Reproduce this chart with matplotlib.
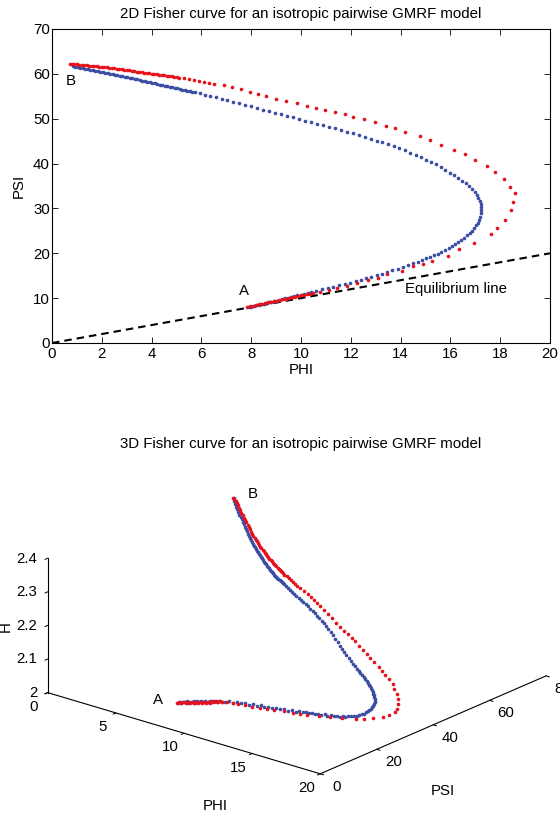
import matplotlib
matplotlib.use("Agg")
import matplotlib.pyplot as plt

plt.rcParams['font.family'] = ['Liberation Sans', 'DejaVu Sans']
FS = 10.8
plt.rcParams['font.size'] = FS

# ---- data: Fisher information trajectories (PHI, PSI, H) ----
blue_phi = [7.90, 8.00, 8.10, 8.20, 8.30, 8.40, 8.50, 8.60, 8.70, 8.80, 8.90, 9.00, 9.12, 9.24, 9.36, 9.48,
            9.60, 9.72, 9.85, 9.98, 10.12, 10.27, 10.42,
            10.62, 10.85, 11.07, 11.30, 11.52, 11.75, 11.97, 12.19, 12.41, 12.62, 12.83, 13.04, 13.24, 13.45,
            13.66, 13.88, 14.10, 14.31, 14.51, 14.69, 14.87, 15.04, 15.20, 15.36, 15.50, 15.64, 15.79, 15.93,
            16.06, 16.19, 16.31, 16.44, 16.56, 16.67, 16.77, 16.87, 16.96, 17.04, 17.10, 17.15, 17.19, 17.21,
            17.22, 17.22,
            17.21, 17.17, 17.12, 17.06, 16.98, 16.88, 16.76, 16.62, 16.47, 16.31, 16.14, 15.97, 15.79, 15.61,
            15.42, 15.22, 15.02, 14.81, 14.60, 14.39, 14.17, 13.95, 13.73, 13.50, 13.27, 13.04, 12.80, 12.56,
            12.32, 12.08, 11.84, 11.60, 11.36, 11.12, 10.88, 10.64, 10.40, 10.16, 9.92, 9.68, 9.44, 9.20, 8.96,
            8.72, 8.48, 8.24, 8.00, 7.76, 7.52, 7.28, 7.04, 6.81, 6.58, 6.36, 6.14, 5.93, 5.73,
            5.63, 5.53, 5.43, 5.33, 5.23, 5.13, 5.03, 4.93, 4.83, 4.73, 4.63, 4.53, 4.43, 4.33, 4.23, 4.13,
            4.03, 3.93, 3.83, 3.73, 3.63, 3.53, 3.43, 3.33, 3.23, 3.13, 3.03, 2.93, 2.83, 2.73, 2.63, 2.53,
            2.43, 2.33, 2.23, 2.13, 2.03, 1.93, 1.83, 1.73, 1.63, 1.53, 1.43, 1.33, 1.23, 1.13, 1.03, 0.94, 0.86]
blue_psi = [7.95, 8.08, 8.22, 8.36, 8.50, 8.63, 8.77, 8.91, 9.05, 9.18, 9.32, 9.45, 9.61, 9.77, 9.94, 10.10,
            10.27, 10.44, 10.62, 10.80, 11.00, 11.21, 11.42,
            11.70, 12.00, 12.28, 12.57, 12.86, 13.17, 13.48, 13.80, 14.13, 14.47, 14.81, 15.15, 15.45, 15.80,
            16.20, 16.60, 17.00, 17.40, 17.80, 18.15, 18.52, 18.88, 19.22, 19.55, 19.95, 20.35, 20.75, 21.15,
            21.58, 22.05, 22.52, 23.00, 23.50, 24.00, 24.50, 25.05, 25.60, 26.20, 26.85, 27.50, 28.20, 28.90,
            29.60, 30.25,
            30.90, 31.60, 32.30, 33.00, 33.70, 34.40, 35.00, 35.60, 36.20, 36.80, 37.40, 38.00, 38.60, 39.20,
            39.80, 40.35, 40.90, 41.45, 41.95, 42.45, 42.95, 43.42, 43.88, 44.30, 44.72, 45.12, 45.52, 45.92,
            46.32, 46.72, 47.10, 47.48, 47.85, 48.20, 48.55, 48.90, 49.25, 49.60, 49.95, 50.30, 50.65, 51.00,
            51.35, 51.70, 52.05, 52.40, 52.75, 53.10, 53.45, 53.80, 54.12, 54.45, 54.77, 55.08, 55.38, 55.65,
            55.90,
            56.02, 56.14, 56.26, 56.38, 56.50, 56.62, 56.74, 56.87, 56.99, 57.12, 57.25, 57.37, 57.50, 57.62,
            57.75, 57.87, 58.00, 58.12, 58.25, 58.37, 58.50, 58.62, 58.75, 58.87, 59.00, 59.12, 59.24, 59.36,
            59.48, 59.60, 59.72, 59.84, 59.95, 60.06, 60.17, 60.28, 60.39, 60.50, 60.60, 60.70, 60.80, 60.90,
            61.00, 61.10, 61.20, 61.31, 61.43, 61.56, 61.70]
blue_h = [2.037, 2.040, 2.038, 2.042, 2.040, 2.044, 2.041, 2.045, 2.043, 2.047, 2.044, 2.049, 2.046, 2.050,
          2.048, 2.052, 2.050, 2.054, 2.052, 2.056, 2.054, 2.058, 2.056,
          2.058, 2.061, 2.058, 2.063, 2.060, 2.064, 2.059, 2.062, 2.060, 2.063, 2.058, 2.061, 2.057, 2.060,
          2.056, 2.059, 2.055, 2.058, 2.054, 2.057, 2.053, 2.055, 2.052, 2.054, 2.050, 2.052, 2.049, 2.051,
          2.047, 2.048, 2.045, 2.046, 2.043, 2.044, 2.042, 2.043, 2.041, 2.041, 2.040, 2.040, 2.040, 2.040,
          2.041, 2.042,
          2.043, 2.045, 2.046, 2.047, 2.049, 2.050, 2.051, 2.052, 2.054, 2.055, 2.056, 2.057, 2.058, 2.059,
          2.060, 2.061, 2.062, 2.063, 2.064, 2.065, 2.066, 2.068, 2.070, 2.073, 2.076, 2.079, 2.082, 2.086,
          2.091, 2.096, 2.101, 2.107, 2.113, 2.119, 2.125, 2.130, 2.135, 2.140, 2.144, 2.148, 2.151, 2.154,
          2.157, 2.160, 2.163, 2.165, 2.168, 2.170, 2.172, 2.174, 2.176, 2.178, 2.180, 2.183, 2.185, 2.187,
          2.190,
          2.191, 2.192, 2.193, 2.195, 2.196, 2.197, 2.199, 2.200, 2.202, 2.204, 2.206, 2.208, 2.210, 2.212,
          2.215, 2.217, 2.219, 2.222, 2.224, 2.227, 2.230, 2.233, 2.236, 2.239, 2.242, 2.245, 2.248, 2.251,
          2.255, 2.259, 2.263, 2.267, 2.271, 2.276, 2.281, 2.286, 2.291, 2.297, 2.303, 2.308, 2.314, 2.319,
          2.325, 2.331, 2.338, 2.344, 2.351, 2.358, 2.365]

red_phi = [7.85, 7.97, 8.09, 8.21, 8.33, 8.45, 8.57, 8.69, 8.81, 8.93, 9.05, 9.17, 9.29, 9.41, 9.53, 9.65,
           9.77, 9.89, 10.01, 10.13, 10.25, 10.37, 10.49,
           10.75, 11.11, 11.45, 11.83, 12.25, 12.69, 13.10, 13.47, 14.04, 14.49, 14.88, 15.25, 15.89, 16.36,
           16.95, 17.63, 17.89, 18.19, 18.45, 18.50, 18.58,
           18.39, 18.15, 17.80, 17.46, 16.99, 16.59, 16.13, 15.63, 15.20, 14.77, 14.19, 13.76, 13.40, 12.97,
           12.54, 12.10, 11.76, 11.36, 10.97, 10.60, 10.25, 9.82, 9.39, 9.00, 8.60, 8.28, 7.96, 7.60, 7.24,
           6.90, 6.52, 6.30, 6.10, 5.90, 5.70, 5.50, 5.30, 5.12,
           5.00, 4.90, 4.80, 4.70, 4.60, 4.50, 4.40, 4.30, 4.20, 4.10, 4.00, 3.90, 3.80, 3.70, 3.60, 3.50,
           3.40, 3.30, 3.20, 3.10, 3.00, 2.90, 2.80, 2.70, 2.60, 2.50, 2.40, 2.30, 2.20, 2.10, 2.00, 1.90,
           1.80, 1.70, 1.60, 1.50, 1.40, 1.30, 1.20, 1.10, 1.00, 0.90, 0.80, 0.72]
red_psi = [8.05, 8.19, 8.33, 8.47, 8.62, 8.76, 8.90, 9.04, 9.18, 9.32, 9.47, 9.61, 9.75, 9.89, 10.03, 10.17,
           10.32, 10.46, 10.60, 10.74, 10.88, 11.02, 11.16,
           11.45, 11.85, 12.25, 12.70, 13.30, 13.95, 14.55, 15.30, 16.10, 17.10, 17.70, 18.30, 19.50, 20.95,
           22.40, 24.20, 25.70, 27.50, 29.60, 31.50, 33.40,
           34.80, 36.50, 38.10, 39.50, 40.80, 42.10, 43.00, 44.10, 45.20, 46.10, 47.00, 47.90, 48.40, 49.20,
           49.90, 50.40, 51.00, 51.50, 51.90, 52.40, 52.80, 53.40, 54.00, 54.50, 55.00, 55.50, 56.00, 56.60,
           57.10, 57.45, 57.80, 58.00, 58.20, 58.40, 58.60, 58.80, 59.00, 59.15,
           59.27, 59.36, 59.45, 59.53, 59.62, 59.70, 59.78, 59.85, 59.92, 59.99, 60.06, 60.13, 60.20, 60.27,
           60.35, 60.43, 60.51, 60.59, 60.67, 60.75, 60.83, 60.91, 60.99, 61.07, 61.14, 61.21, 61.28, 61.35,
           61.42, 61.48, 61.54, 61.60, 61.66, 61.71, 61.76, 61.81, 61.87, 61.93, 61.99, 62.05, 62.11, 62.18,
           62.25, 62.30]
red_h = [2.036, 2.039, 2.037, 2.041, 2.039, 2.043, 2.041, 2.045, 2.043, 2.047, 2.045, 2.049, 2.047, 2.051,
         2.049, 2.053, 2.051, 2.055, 2.053, 2.057, 2.055, 2.059, 2.057,
         2.060, 2.060, 2.060, 2.059, 2.058, 2.057, 2.057, 2.056, 2.055, 2.053, 2.053, 2.052, 2.050, 2.048,
         2.047, 2.046, 2.045, 2.043, 2.042, 2.041, 2.044,
         2.048, 2.053, 2.058, 2.062, 2.068, 2.073, 2.078, 2.081, 2.083, 2.086, 2.092, 2.096, 2.100, 2.104,
         2.109, 2.115, 2.118, 2.123, 2.128, 2.132, 2.138, 2.145, 2.152, 2.157, 2.162, 2.165, 2.168, 2.171,
         2.174, 2.177, 2.181, 2.183, 2.185, 2.188, 2.190, 2.192, 2.195, 2.197,
         2.199, 2.201, 2.203, 2.205, 2.207, 2.209, 2.211, 2.213, 2.215, 2.218, 2.220, 2.223, 2.225, 2.228,
         2.231, 2.234, 2.237, 2.240, 2.243, 2.246, 2.249, 2.252, 2.256, 2.260, 2.264, 2.268, 2.272, 2.277,
         2.282, 2.287, 2.292, 2.298, 2.304, 2.309, 2.315, 2.321, 2.327, 2.333, 2.339, 2.345, 2.350, 2.355,
         2.359, 2.362]

equilibrium_phi = [0, 20]
equilibrium_psi = [0, 20]

phi_ticks_2d = list(range(0, 21, 2))
psi_ticks_2d = list(range(0, 71, 10))
phi_ticks_3d = [0, 5, 10, 15, 20]
psi_ticks_3d = [0, 20, 40, 60, 80]
h_ticks_3d = [2.0, 2.1, 2.2, 2.3, 2.4]
h_tick_labels = ['2', '2.1', '2.2', '2.3', '2.4']

BLUE = '#3b4ca3'
RED = '#e5121b'
MS = 2.6

W, H = 560, 817
fig = plt.figure(figsize=(W / 100, H / 100), dpi=100)

# ---------------- 2D Fisher curve ----------------
ax = fig.add_axes([52 / W, 1 - 343 / H, 498 / W, 314 / H])
ax.plot(equilibrium_phi, equilibrium_psi, color='black', lw=1.5,
        linestyle=(0, (3.6, 2.4)), zorder=1)
ax.plot(blue_phi, blue_psi, 'o', ms=MS, mew=0, color=BLUE, zorder=2)
ax.plot(red_phi, red_psi, 'o', ms=MS, mew=0, color=RED, zorder=3)
ax.set_xlim(0, 20)
ax.set_ylim(0, 70)
ax.set_xticks(phi_ticks_2d)
ax.set_yticks(psi_ticks_2d)
ax.tick_params(direction='in', length=4.5, width=0.6, top=True, right=True, labelsize=FS)
ax.tick_params(axis='x', pad=3)
ax.tick_params(axis='y', pad=1.5)
for sp in ax.spines.values():
    sp.set_linewidth(0.8)
ax.set_xlabel('PHI', labelpad=1)
ax.set_ylabel('PSI', labelpad=5)
ax.set_title('2D Fisher curve for an isotropic pairwise GMRF model', fontsize=FS, pad=8)
ax.text(7.71, 11.6, 'A', ha='center', va='center', fontsize=FS)
ax.text(0.74, 58.5, 'B', ha='center', va='center', fontsize=FS)
ax.text(14.18, 12.1, 'Equilibrium line', ha='left', va='center', fontsize=FS)

# ---------------- 3D Fisher curve ----------------
ax3 = fig.add_axes([0.0665, -0.0731, 0.903, 0.619], projection='3d')
ax3.set_proj_type('ortho')
ax3.view_init(elev=21.06, azim=-50.35)
ax3.set_box_aspect((1, 1, 0.407))
ax3.patch.set_alpha(0)
ax3.grid(False)
for axis in (ax3.xaxis, ax3.yaxis, ax3.zaxis):
    axis.set_pane_color((1, 1, 1, 0))
    axis.pane.set_edgecolor((1, 1, 1, 0))
    axis.line.set_color('black')
    axis.line.set_linewidth(0.8)
    axis._axinfo['tick']['linewidth'] = {True: 0.7, False: 0.5}
    axis._axinfo['tick']['color'] = 'black'
    axis._axinfo['tick']['inward_factor'] = 0.15
    axis._axinfo['tick']['outward_factor'] = 0.0
    axis.label.set_visible(False)
    axis.offsetText.set_visible(False)
ax3.zaxis.set_ticks_position('lower')

ax3.plot(blue_phi, blue_psi, blue_h, 'o', ms=MS, mew=0, color=BLUE)
ax3.plot(red_phi, red_psi, red_h, 'o', ms=MS, mew=0, color=RED)
ax3.set_xlim(0, 20)
ax3.set_ylim(0, 80)
ax3.set_zlim(2.0, 2.4)
ax3.set_xticks(phi_ticks_3d)
ax3.set_yticks(psi_ticks_3d)
ax3.set_zticks(h_ticks_3d)
ax3.set_zticklabels(h_tick_labels)
ax3.tick_params(labelsize=FS)
ax3.zaxis.set_tick_params(pad=-4)
for lbl in ax3.get_xticklabels() + ax3.get_yticklabels():
    lbl.set_va('center')
for lbl in ax3.get_zticklabels():
    lbl.set_va('center')
    lbl.set_ha('right')
ax3.text(6.45, 8, 2.027, 'A', ha='center', va='center', fontsize=FS)
ax3.text(2.2, 62, 2.393, 'B', ha='center', va='center', fontsize=FS)

fig.text(301 / W, 1 - 444 / H, '3D Fisher curve for an isotropic pairwise GMRF model',
         ha='center', va='center', fontsize=FS)
fig.text(215 / W, 1 - 806 / H, 'PHI', ha='center', va='center', fontsize=FS)
fig.text(443 / W, 1 - 791 / H, 'PSI', ha='center', va='center', fontsize=FS)
fig.text(6 / W, 1 - 627 / H, 'H', ha='center', va='center', rotation=90, fontsize=FS)

fig.savefig('out.png', dpi=100)
